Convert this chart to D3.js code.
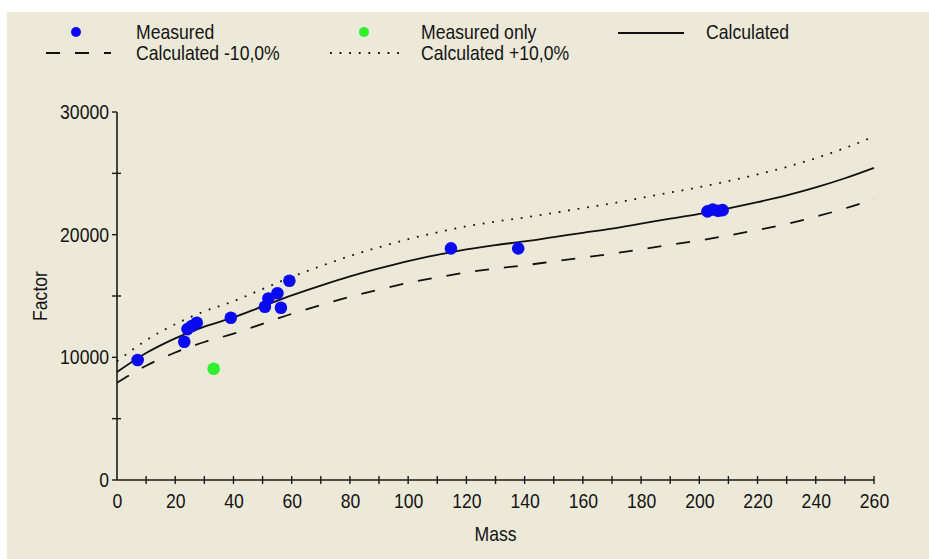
<!DOCTYPE html>
<html>
<head>
<meta charset="utf-8">
<script src="https://cdnjs.cloudflare.com/ajax/libs/d3/7.8.5/d3.min.js"></script>
<style>
  html, body { margin: 0; padding: 0; background: #ffffff; }
</style>
</head>
<body>
<div id="chart"></div>
<script>
// Measured points
var measuredMass = [7.1, 23.1, 24.2, 25.7, 27.4, 39.1, 50.8, 52.0, 55.1, 56.3, 59.2, 114.7, 137.8, 202.8, 204.6, 206.5, 208.0];
var measuredFactor = [9780, 11270, 12300, 12550, 12820, 13230, 14120, 14800, 15220, 14040, 16240, 18880, 18880, 21900, 22050, 21950, 22000];

// Measured only
var measuredOnlyMass = [33.2];
var measuredOnlyFactor = [9070];

// Calculated curve and the -10% / +10% bands
var calcMass = [0, 10, 20, 30, 40, 50, 60, 70, 80, 90, 100, 110, 120, 130, 140, 150, 160, 170, 180, 190, 200, 210, 220, 230, 240, 250, 260];
var calcFactor = [8800, 10350, 11550, 12500, 13250, 14150, 15050, 15850, 16600, 17250, 17850, 18350, 18800, 19150, 19450, 19800, 20150, 20500, 20900, 21300, 21700, 22150, 22650, 23200, 23850, 24600, 25450];
var calcMinusFactor = [7920, 9315, 10395, 11250, 11925, 12735, 13545, 14265, 14940, 15525, 16065, 16515, 16920, 17235, 17505, 17820, 18135, 18450, 18810, 19170, 19530, 19935, 20385, 20880, 21465, 22140, 22905];
var calcPlusFactor = [9680, 11385, 12705, 13750, 14575, 15565, 16555, 17435, 18260, 18975, 19635, 20185, 20680, 21065, 21395, 21780, 22165, 22550, 22990, 23430, 23870, 24365, 24915, 25520, 26235, 27060, 27995];

// Axis ticks
var xTickValues = [0, 20, 40, 60, 80, 100, 120, 140, 160, 180, 200, 220, 240, 260];
var xMinorTicks = [10, 30, 50, 70, 90, 110, 130, 150, 170, 190, 210, 230, 250];
var yTickValues = [0, 10000, 20000, 30000];
var yMinorTicks = [5000, 15000, 25000];

var legendLabels = ['Measured', 'Measured only', 'Calculated', 'Calculated -10,0%', 'Calculated +10,0%'];

function FactorChart() {
    var attrs = {
        svgWidth: 929,
        svgHeight: 559,
        marginLeft: 117,
        marginRight: 55,
        marginTop: 112,
        marginBottom: 79,
        container: '#chart',
        background: '#ece9d8',
        font: '"Liberation Sans", Arial, sans-serif',
        fontSize: 20,
        squeeze: 0.88, // the original font is a narrow one
        textFill: '#141414',
        axisColor: '#1a1a1a',
        measuredColor: '#0a0af0',
        measuredOnlyColor: '#2ef02e',
        lineColor: '#111111'
    };

    var main = function () {
        var calc = {};
        calc.chartWidth = attrs.svgWidth - attrs.marginLeft - attrs.marginRight;
        calc.chartHeight = attrs.svgHeight - attrs.marginTop - attrs.marginBottom;

        /*##################################   SCALES  ####################################### */
        var x = d3.scaleLinear().domain([0, 260]).range([0, calc.chartWidth]);
        var y = d3.scaleLinear().domain([0, 30000]).range([calc.chartHeight, 0]);

        var line = function (ys) {
            return d3.line()
                .x((d, i) => x(calcMass[i]))
                .y(d => y(d))
                .curve(d3.curveMonotoneX)(ys);
        };

        // narrow text: placed by a group, squeezed horizontally
        var narrowText = function (parent, px, py, txt, anchor, rotate) {
            var g = parent.append('g')
                .attr('transform', 'translate(' + px + ',' + py + ')' + (rotate ? ' rotate(' + rotate + ')' : ''));
            return g.append('text')
                .attr('transform', 'scale(' + attrs.squeeze + ',1)')
                .attr('text-anchor', anchor || 'start')
                .attr('fill', attrs.textFill)
                .text(txt);
        };

        /*##################################   DRAWING  ####################################### */
        var svg = d3.select(attrs.container).append('svg')
            .attr('width', attrs.svgWidth)
            .attr('height', attrs.svgHeight)
            .attr('font-family', attrs.font)
            .attr('font-size', attrs.fontSize);

        // window frame: white strip at top and left
        svg.append('rect')
            .attr('x', 7).attr('y', 12)
            .attr('width', attrs.svgWidth - 7)
            .attr('height', attrs.svgHeight - 12)
            .attr('fill', attrs.background);

        var chart = svg.append('g')
            .attr('transform', 'translate(' + attrs.marginLeft + ',' + attrs.marginTop + ')');

        // x axis
        var xAxis = d3.axisBottom(x).tickValues(xTickValues).tickFormat(d3.format('d')).tickSize(0).tickPadding(14);
        var gx = chart.append('g')
            .attr('transform', 'translate(0,' + calc.chartHeight + ')')
            .call(xAxis);
        gx.select('.domain').remove();
        gx.selectAll('text')
            .attr('fill', attrs.textFill)
            .attr('font-size', attrs.fontSize)
            .attr('transform', 'scale(' + attrs.squeeze + ',1)');

        gx.append('line')
            .attr('x1', 0).attr('x2', calc.chartWidth)
            .attr('stroke', attrs.axisColor).attr('stroke-width', 1.6);
        gx.selectAll('.xt')
            .data(xTickValues.concat(xMinorTicks).filter(d => d > 0))
            .enter().append('line')
            .attr('class', 'xt')
            .attr('x1', d => x(d)).attr('x2', d => x(d))
            .attr('y1', -4).attr('y2', 4)
            .attr('stroke', attrs.axisColor).attr('stroke-width', 1.4);

        // y axis
        var yAxis = d3.axisLeft(y).tickValues(yTickValues).tickFormat(d3.format('d')).tickSize(0).tickPadding(8);
        var gy = chart.append('g').call(yAxis);
        gy.select('.domain').remove();
        gy.selectAll('text')
            .attr('fill', attrs.textFill)
            .attr('font-size', attrs.fontSize)
            .attr('x', -8 / attrs.squeeze)
            .attr('transform', 'scale(' + attrs.squeeze + ',1)');

        gy.append('line')
            .attr('y1', 0).attr('y2', calc.chartHeight)
            .attr('stroke', attrs.axisColor).attr('stroke-width', 1.6);
        gy.selectAll('.yt')
            .data(yTickValues.concat(yMinorTicks))
            .enter().append('line')
            .attr('class', 'yt')
            .attr('y1', d => y(d)).attr('y2', d => y(d))
            .attr('x1', -5).attr('x2', d => yTickValues.indexOf(d) >= 0 ? 0 : 4)
            .attr('stroke', attrs.axisColor).attr('stroke-width', 1.4);

        // axis titles
        narrowText(chart, calc.chartWidth / 2, calc.chartHeight + 61, 'Mass', 'middle');
        narrowText(chart, -70, calc.chartHeight / 2, 'Factor', 'middle', -90);

        // curves
        chart.append('path')
            .attr('d', line(calcPlusFactor))
            .attr('fill', 'none')
            .attr('stroke', attrs.lineColor)
            .attr('stroke-width', 1.8)
            .attr('stroke-dasharray', '1.8,7.8');

        chart.append('path')
            .attr('d', line(calcMinusFactor))
            .attr('fill', 'none')
            .attr('stroke', attrs.lineColor)
            .attr('stroke-width', 1.8)
            .attr('stroke-dasharray', '14,15');

        chart.append('path')
            .attr('d', line(calcFactor))
            .attr('fill', 'none')
            .attr('stroke', attrs.lineColor)
            .attr('stroke-width', 1.8);

        // points
        chart.selectAll('.measured')
            .data(measuredMass)
            .enter().append('circle')
            .attr('class', 'measured')
            .attr('cx', d => x(d))
            .attr('cy', (d, i) => y(measuredFactor[i]))
            .attr('r', 6.3)
            .attr('fill', attrs.measuredColor);

        chart.selectAll('.measuredOnly')
            .data(measuredOnlyMass)
            .enter().append('circle')
            .attr('class', 'measuredOnly')
            .attr('cx', d => x(d))
            .attr('cy', (d, i) => y(measuredOnlyFactor[i]))
            .attr('r', 6.3)
            .attr('fill', attrs.measuredOnlyColor);

        /*##################################   LEGEND  ####################################### */
        var legend = svg.append('g');
        var row1 = 32, row2 = 53;

        legend.append('circle').attr('cx', 76).attr('cy', row1).attr('r', 5).attr('fill', attrs.measuredColor);
        legend.append('circle').attr('cx', 364).attr('cy', row1).attr('r', 5).attr('fill', attrs.measuredOnlyColor);
        legend.append('line')
            .attr('x1', 618).attr('x2', 684).attr('y1', row1 + 1).attr('y2', row1 + 1)
            .attr('stroke', attrs.lineColor).attr('stroke-width', 1.8);
        legend.append('line')
            .attr('x1', 46).attr('x2', 111).attr('y1', row2).attr('y2', row2)
            .attr('stroke', attrs.lineColor).attr('stroke-width', 1.8)
            .attr('stroke-dasharray', '14,15');
        legend.append('line')
            .attr('x1', 330).attr('x2', 404).attr('y1', row2).attr('y2', row2)
            .attr('stroke', attrs.lineColor).attr('stroke-width', 1.8)
            .attr('stroke-dasharray', '1.8,7.8');

        var legendPos = [[136, row1], [421, row1], [706, row1], [136, row2], [421, row2]];
        legendLabels.forEach(function (d, i) {
            narrowText(legend, legendPos[i][0], legendPos[i][1], d, 'start')
                .attr('dy', '0.35em');
        });
    };

    main.run = function () {
        main();
        return main;
    };

    return main;
}

FactorChart().run();
</script>
</body>
</html>
